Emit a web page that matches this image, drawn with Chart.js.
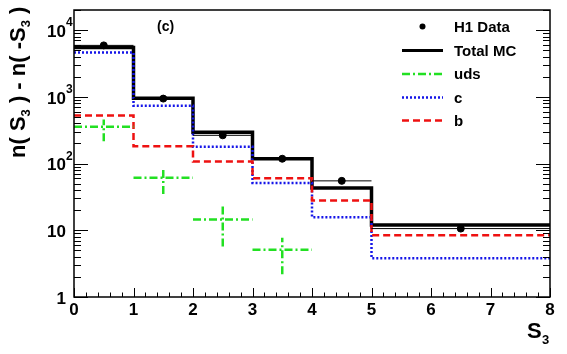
<!DOCTYPE html>
<html>
<head>
<meta charset="utf-8">
<script src="https://cdn.jsdelivr.net/npm/chart.js@4/dist/chart.umd.min.js"></script>
<style>
  html, body { margin: 0; padding: 0; background: #fff; }
  #wrap { width: 567px; height: 354px; }
</style>
</head>
<body>
<div id="wrap"><canvas id="c" width="567" height="354"></canvas></div>
<script>
// bin edges of the S3 histogram
const binEdges = [0, 1, 2, 3, 4, 5, 8];
const totalMC = [5500, 955, 295, 118, 43, 12];
const cQuark = [4600, 733, 178, 51, 15.7, 3.8];
const bQuark = [525, 182, 107, 60, 28, 8.4];
// uds only has entries in the first four bins
const udsVal = [355, 61, 14.5, 5.1];
const udsLo = [216, 35, 5.7, 2.2];
const udsHi = [457, 86, 23, 7.7];
const dataX = [0.5, 1.5, 2.5, 3.5, 4.5, 6.5];
const dataY = [5900, 940, 265, 118, 55, 10.6];
const xTicks = [0, 1, 2, 3, 4, 5, 6, 7, 8];
const yTicks = [1, 10, 100, 1000, 10000];
const yTickBase = ['1', '10', '10', '10', '10'];
const yTickExp = ['', '', '2', '3', '4'];

const FONT = '"Liberation Sans", Arial, Helvetica, sans-serif';

function steps(vals) {
  const pts = vals.map((v, i) => ({ x: binEdges[i], y: v }));
  pts.push({ x: binEdges[binEdges.length - 1], y: vals[vals.length - 1] });
  return pts;
}
function hSegs(vals, edges) {
  const pts = [];
  vals.forEach((v, i) => {
    pts.push({ x: edges[i], y: v }, { x: edges[i + 1], y: v }, { x: edges[i + 1], y: null });
  });
  return pts;
}
function vSegs(xs, lo, hi) {
  const pts = [];
  xs.forEach((x, i) => {
    pts.push({ x, y: lo[i] }, { x, y: hi[i] }, { x, y: null });
  });
  return pts;
}

const udsX = udsVal.map((_, i) => (binEdges[i] + binEdges[i + 1]) / 2);
const dashDot = [8, 3, 2, 3];
const green = '#22e022';

const base = { pointRadius: 0, fill: false, spanGaps: false, borderCapStyle: 'butt' };

const frame = {
  id: 'frame',
  afterDatasetsDraw(chart) {
    const { ctx, chartArea: a, scales: { x, y } } = chart;
    ctx.save();
    ctx.strokeStyle = '#000';
    ctx.lineWidth = 1.5;
    ctx.strokeRect(a.left, a.top, a.right - a.left, a.bottom - a.top);
    ctx.lineWidth = 1;
    ctx.beginPath();
    // x ticks, major and minor (0.2)
    for (let i = 0; i <= 40; i++) {
      const v = i / 5;
      const px = Math.round(x.getPixelForValue(v)) + 0.5;
      const len = i % 5 === 0 ? 9 : 4.5;
      ctx.moveTo(px, a.bottom);
      ctx.lineTo(px, a.bottom - len);
    }
    // y log ticks on both sides
    for (let d = 0; d <= 4; d++) {
      for (let m = 1; m <= 9; m++) {
        const v = m * Math.pow(10, d);
        if (v > y.max) break;
        const py = Math.round(y.getPixelForValue(v)) + 0.5;
        const len = m === 1 ? 14 : 7;
        ctx.moveTo(a.left, py);
        ctx.lineTo(a.left + len, py);
        ctx.moveTo(a.right, py);
        ctx.lineTo(a.right - len, py);
      }
    }
    ctx.stroke();

    // tick labels
    ctx.fillStyle = '#000';
    ctx.font = 'bold 17px ' + FONT;
    ctx.textAlign = 'center';
    ctx.textBaseline = 'top';
    xTicks.forEach(v => {
      ctx.fillText(String(v), x.getPixelForValue(v), a.bottom + 5);
    });
    yTicks.forEach((v, i) => {
      const py = y.getPixelForValue(v);
      ctx.font = 'bold 17px ' + FONT;
      ctx.textAlign = 'right';
      ctx.textBaseline = 'middle';
      ctx.fillText(yTickBase[i], 66, py + 2);
      if (yTickExp[i]) {
        ctx.font = 'bold 12px ' + FONT;
        ctx.textAlign = 'left';
        ctx.fillText(yTickExp[i], 66, py - 7);
      }
    });

    // axis titles
    ctx.textAlign = 'left';
    ctx.textBaseline = 'alphabetic';
    ctx.font = 'bold 22px ' + FONT;
    ctx.fillText('S', 527, 338);
    ctx.font = 'bold 13px ' + FONT;
    ctx.fillText('3', 542, 344);

    ctx.save();
    ctx.translate(25, 158);
    ctx.rotate(-Math.PI / 2);
    const parts = [['n( S', 0], ['3', 1], [' ) - n( -S', 0], ['3', 1], [' )', 0]];
    let cx = 0;
    parts.forEach(([t, sub]) => {
      ctx.font = sub ? 'bold 13px ' + FONT : 'bold 22px ' + FONT;
      ctx.fillText(t, cx, sub ? 5 : 0);
      cx += ctx.measureText(t).width;
    });
    ctx.restore();

    // panel label
    ctx.font = 'bold 14px ' + FONT;
    ctx.textBaseline = 'middle';
    ctx.fillText('(c)', 157, 27);

    // legend
    const lx0 = 402, lx1 = 443, tx = 454;
    const rows = [26.5, 50.5, 74, 97.5, 120.5];
    ctx.font = 'bold 15px ' + FONT;
    ctx.beginPath();
    ctx.arc((lx0 + lx1) / 2, rows[0], 3, 0, Math.PI * 2);
    ctx.fill();
    ctx.fillText('H1 Data', tx, rows[0] + 1);
    const styles = [
      ['#000', [], 3, 'Total MC'],
      [green, dashDot, 2.5, 'uds'],
      ['#1515e8', [2, 2], 2.5, 'c'],
      ['#ee1111', [7, 4], 2.5, 'b']
    ];
    styles.forEach(([col, dash, w, label], i) => {
      const yy = rows[i + 1];
      ctx.strokeStyle = col;
      ctx.lineWidth = w;
      ctx.setLineDash(dash);
      ctx.beginPath();
      ctx.moveTo(lx0, yy);
      ctx.lineTo(lx1, yy);
      ctx.stroke();
      ctx.fillText(label, tx, yy + 1);
    });
    ctx.restore();
  }
};

new Chart(document.getElementById('c'), {
  type: 'line',
  data: {
    datasets: [
      { ...base, label: 'H1 Data', data: dataX.map((x, i) => ({ x, y: dataY[i] })), showLine: false,
        pointRadius: 3.5, pointBackgroundColor: '#000', pointBorderColor: '#000', order: 0 },
      { ...base, label: 'H1 Data err', data: hSegs(dataY, binEdges), borderColor: '#000', borderWidth: 1, order: 1 },
      { ...base, label: 'uds', data: hSegs(udsVal, binEdges), borderColor: green, borderWidth: 2.5, borderDash: dashDot, order: 2 },
      { ...base, label: 'uds err', data: vSegs(udsX, udsLo, udsHi), borderColor: green, borderWidth: 2.5, borderDash: dashDot, order: 2 },
      { ...base, label: 'b', data: steps(bQuark), stepped: true, borderColor: '#ee1111', borderWidth: 2.5, borderDash: [7, 4], order: 3 },
      { ...base, label: 'c', data: steps(cQuark), stepped: true, borderColor: '#1515e8', borderWidth: 2.5, borderDash: [2, 2], order: 4 },
      { ...base, label: 'Total MC', data: steps(totalMC), stepped: true, borderColor: '#000', borderWidth: 3.5, order: 5 }
    ]
  },
  options: {
    responsive: false,
    animation: false,
    events: [],
    layout: { padding: { left: 74, right: 17, top: 10, bottom: 57 } },
    plugins: { legend: { display: false }, tooltip: { enabled: false } },
    scales: {
      x: { type: 'linear', min: 0, max: 8, display: false },
      y: { type: 'logarithmic', min: 1, max: 20000, display: false }
    }
  },
  plugins: [frame]
});
</script>
</body>
</html>
